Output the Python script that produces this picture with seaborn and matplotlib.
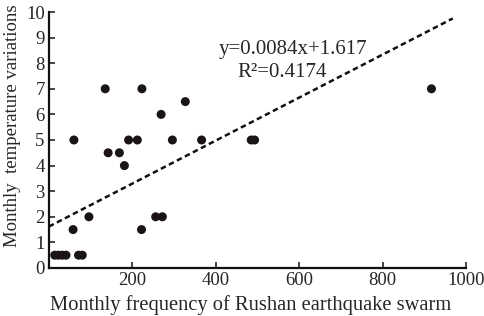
import matplotlib
matplotlib.use("Agg")
import matplotlib.pyplot as plt
import seaborn as sns
import pandas as pd

# Monthly earthquake frequency vs temperature variations
freq = [14, 23, 32, 41, 71, 80, 58, 96, 222, 256, 272, 181, 142, 169,
        60, 191, 212, 296, 366, 485, 493, 269, 327, 135, 223, 917]
temp = [0.5, 0.5, 0.5, 0.5, 0.5, 0.5, 1.5, 2, 1.5, 2, 2, 4, 4.5, 4.5,
        5, 5, 5, 5, 5, 5, 5, 6, 6.5, 7, 7, 7]
slope = 0.0084
intercept = 1.617
fit_x = [0, 968]
x_ticks = [200, 400, 600, 800, 1000]
y_ticks = list(range(0, 11))

df = pd.DataFrame({"freq": freq, "temp": temp})
fit = pd.DataFrame({"x": fit_x, "y": [slope * v + intercept for v in fit_x]})

sns.set_style("ticks")
plt.rcParams['font.family'] = ['Liberation Serif', 'DejaVu Serif']

fig = plt.figure(figsize=(4.84, 3.16), dpi=100)
ax = fig.add_axes([0.101, 0.152, 0.862, 0.810])

sns.scatterplot(data=df, x="freq", y="temp", ax=ax, color="#1a1414",
                s=42, edgecolor="none", zorder=3)
ax.plot(fit["x"], fit["y"], color="#111111", lw=1.8, ls=(0, (2.2, 1.4)))

ax.set_xlim(0, 1000)
ax.set_ylim(0, 10)
ax.set_xticks(x_ticks)
ax.set_yticks(y_ticks)
ax.tick_params(direction="in", length=4, width=1.2, labelsize=13.5, pad=3)
for s in ["top", "right"]:
    ax.spines[s].set_visible(False)
for s in ["left", "bottom"]:
    ax.spines[s].set_linewidth(1.6)
    ax.spines[s].set_color("#111111")

ax.set_xlabel("Monthly frequency of Rushan earthquake swarm", fontsize=14.8)
ax.xaxis.set_label_coords(0.484, -0.105)
ax.set_ylabel("Monthly  temperature variations", fontsize=13.5)
ax.yaxis.set_label_coords(-0.068, 0.555)

ax.text(585, 8.52, "y=0.0084x+1.617", fontsize=15, ha="center", va="center")
ax.text(560, 7.62, "R\u00b2=0.4174", fontsize=15, ha="center", va="center")

fig.savefig("out.png", dpi=100)
